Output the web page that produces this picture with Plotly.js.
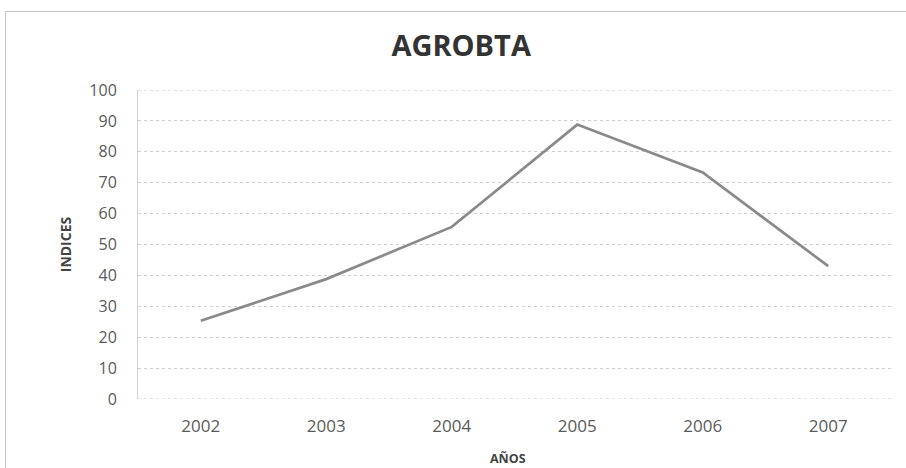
<!DOCTYPE html>
<html>
<head>
<meta charset="utf-8">
<script src="https://cdn.plot.ly/plotly-3.0.1.min.js"></script>
<style>
  html, body { margin: 0; padding: 0; background: #fff; overflow: hidden; }
  #frame { position: absolute; left: 5px; top: 11px; width: 930px; height: 500px; border: 1px solid #c4c4c4; }
  #chart { position: absolute; left: 0; top: 0; width: 906px; height: 468px; }
</style>
</head>
<body>
<div id="frame"></div>
<div id="chart"></div>
<script>
// AGROBTA index by year
const years = ["2002", "2003", "2004", "2005", "2006", "2007"];
const indices = [25.3, 38.8, 55.7, 88.8, 73.3, 43.0];
const yTicks = [0, 10, 20, 30, 40, 50, 60, 70, 80, 90, 100];

const font = "Open Sans, Lato, sans-serif";

const trace = {
  x: years,
  y: indices,
  type: "scatter",
  mode: "lines",
  line: { color: "#8a8a8a", width: 2.7 },
  hoverinfo: "x+y"
};

const dotted = { color: "#c8c8c8", width: 1, dash: "dot" };

const layout = {
  width: 906,
  height: 468,
  paper_bgcolor: "rgba(0,0,0,0)",
  plot_bgcolor: "rgba(0,0,0,0)",
  margin: { l: 138, r: 15, t: 90, b: 69 },
  showlegend: false,
  title: {
    text: "<b>AGROBTA</b>",
    font: { family: font, size: 29, color: "#333" },
    x: 0.509, xref: "container", xanchor: "center",
    y: 0.902, yref: "container", yanchor: "middle"
  },
  xaxis: {
    type: "category",
    range: [-0.5, 5.5],
    tickvals: years,
    ticktext: years,
    showgrid: false,
    zeroline: false,
    showline: false,
    ticks: "",
    ticklabelstandoff: 15,
    tickfont: { family: font, size: 17, color: "#5a5a5a" }
  },
  yaxis: {
    range: [0, 100],
    tickvals: yTicks,
    showgrid: true,
    gridcolor: "#cfcfcf",
    griddash: "dot",
    gridwidth: 1,
    zeroline: false,
    showline: true,
    linecolor: "#d4d4d4",
    linewidth: 1,
    ticks: "",
    ticklabelstandoff: 17,
    tickfont: { family: font, size: 16, color: "#5a5a5a" },
    title: { text: "<b>INDICES</b>", font: { family: font, size: 14, color: "#444" }, standoff: 14 }
  },
  annotations: [
    { text: "<b>AÑOS</b>", xref: "paper", yref: "paper", x: 0.491, y: -0.192, xanchor: "center", yanchor: "middle",
      showarrow: false, font: { family: font, size: 12.5, color: "#444" } }
  ],
  shapes: [
    { type: "line", xref: "paper", yref: "y", x0: 0, x1: 1, y0: 0, y1: 0, line: dotted },
    { type: "line", xref: "paper", yref: "y", x0: 0, x1: 1, y0: 100, y1: 100, line: dotted }
  ]
};

Plotly.newPlot("chart", [trace], layout, { displayModeBar: false, staticPlot: true });
</script>
</body>
</html>
